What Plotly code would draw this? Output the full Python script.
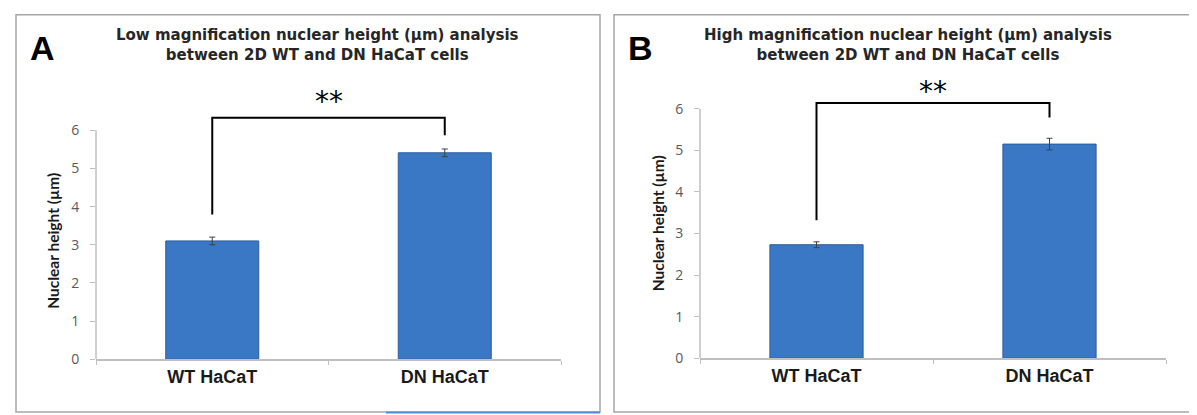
import plotly.graph_objects as go

W, H = 1197, 415

categories = ["WT HaCaT", "DN HaCaT"]
low_mag_values = [3.10, 5.41]
low_mag_err = [0.10, 0.10]
high_mag_values = [2.73, 5.15]
high_mag_err = [0.07, 0.14]

# significance brackets: [left foot, top, right foot]
low_bracket = [3.79, 6.33, 5.87]
high_bracket = [3.32, 6.14, 5.79]
sig_label = "**"
low_star_y = 6.76
high_star_y = 6.42

y_ticks = [0, 1, 2, 3, 4, 5, 6]
titles = [
    "Low magnification nuclear height (\u00b5m) analysis<br>between 2D WT and DN HaCaT cells",
    "High magnification nuclear height (\u00b5m) analysis<br>between 2D WT and DN HaCaT cells",
]
panel_letters = ["A", "B"]
y_title = "Nuclear height (\u00b5m)"

BAR = "#3a77c5"
BAR_LINE = "#2d5d9c"
AX = "#bfbfbf"
TICKF = dict(family="Open Sans, Lato, sans-serif", size=14, color="#595959")

def px(x):
    return x / W

def py(y):
    return 1 - y / H

fig = go.Figure()

panels = [
    dict(vals=low_mag_values, err=low_mag_err, br=low_bracket, star=low_star_y,
         xa="x", ya="y", xdom=[px(88), px(553)], ydom=[py(359), py(86)], yr=[0, 7.0]),
    dict(vals=high_mag_values, err=high_mag_err, br=high_bracket, star=high_star_y,
         xa="x2", ya="y2", xdom=[px(692), px(1158)], ydom=[py(358), py(77.5)], yr=[0, 6.6]),
]

for p in panels:
    fig.add_trace(go.Bar(
        x=categories, y=p["vals"], width=0.4,
        marker=dict(color=BAR, line=dict(color=BAR_LINE, width=1)),
        error_y=dict(type="data", array=p["err"], color="#404040", thickness=1, width=3),
        xaxis=p["xa"], yaxis=p["ya"], showlegend=False, hoverinfo="skip",
    ))
    fig.add_trace(go.Scatter(
        x=[categories[0], categories[0], categories[1], categories[1]],
        y=[p["br"][0], p["br"][1], p["br"][1], p["br"][2]],
        mode="lines", line=dict(color="black", width=2),
        xaxis=p["xa"], yaxis=p["ya"], showlegend=False, hoverinfo="skip",
    ))

layout = dict(
    width=W, height=H, margin=dict(l=0, r=0, t=0, b=0),
    paper_bgcolor="white", plot_bgcolor="rgba(0,0,0,0)",
    bargap=0.6,
)

for i, p in enumerate(panels):
    sfx = "" if i == 0 else "2"
    layout["xaxis" + sfx] = dict(
        domain=p["xdom"], anchor=p["ya"], type="category", range=[-0.5, 1.5],
        showline=True, linecolor=AX, linewidth=1.5,
        ticks="outside", tickson="boundaries", ticklen=4, tickcolor=AX,
        showgrid=False, zeroline=False,
        tickfont=dict(family="Liberation Sans, Arial, sans-serif", size=18, color="#1a1a1a", weight="bold"),
    )
    layout["yaxis" + sfx] = dict(
        domain=p["ydom"], anchor=p["xa"], range=p["yr"],
        tickvals=y_ticks, ticks="outside", ticklen=5, tickcolor=AX,
        ticklabelstandoff=8,
        showline=False, showgrid=False, zeroline=False, tickfont=TICKF,
    )

fig.update_layout(**layout)

shapes = []
for p in panels:
    shapes.append(dict(type="line", xref=p["xa"] + " domain", x0=0, x1=0,
                       yref=p["ya"], y0=y_ticks[0], y1=y_ticks[-1],
                       line=dict(color=AX, width=1.5)))
shapes.append(dict(type="rect", xref="paper", yref="paper", x0=px(8), x1=px(592), y0=py(413), y1=py(7),
                   line=dict(color="#a6a6a6", width=1.5)))
shapes.append(dict(type="rect", xref="paper", yref="paper", x0=px(606), x1=px(1190), y0=py(413), y1=py(7),
                   line=dict(color="#a6a6a6", width=1.5)))
shapes.append(dict(type="line", xref="paper", yref="paper", x0=px(378), x1=px(592), y0=py(413.5), y1=py(413.5),
                   line=dict(color="#4a8fd8", width=2)))
fig.update_layout(shapes=shapes)

ann = []
title_cx = [309, 900]
letter_cx = [34, 632]
ytitle_cx = [45, 650]
ytitle_cy = [238, 220]
for i, p in enumerate(panels):
    ann.append(dict(xref="paper", yref="paper", x=px(title_cx[i]), y=py(38), text=titles[i],
                    showarrow=False, xanchor="center", yanchor="middle",
                    font=dict(family="DejaVu Sans, sans-serif", size=15, color="#262626", weight="bold")))
    ann.append(dict(xref="paper", yref="paper", x=px(letter_cx[i]), y=py(41), text=panel_letters[i],
                    showarrow=False, xanchor="center", yanchor="middle",
                    font=dict(family="Liberation Sans, Arial, sans-serif", size=34, color="black", weight="bold")))
    ann.append(dict(xref="paper", yref="paper", x=px(ytitle_cx[i]), y=py(ytitle_cy[i]), text=y_title,
                    showarrow=False, textangle=-90, xanchor="center", yanchor="middle",
                    font=dict(family="Lato, sans-serif", size=15.5, color="#1a1a1a", weight="bold")))
    ann.append(dict(xref=p["xa"], yref=p["ya"], x=0.5, y=p["star"], text=sig_label,
                    showarrow=False, xanchor="center", yanchor="middle",
                    font=dict(family="DejaVu Sans, sans-serif", size=28, color="black")))
fig.update_layout(annotations=ann)

fig.write_html("out.html")
